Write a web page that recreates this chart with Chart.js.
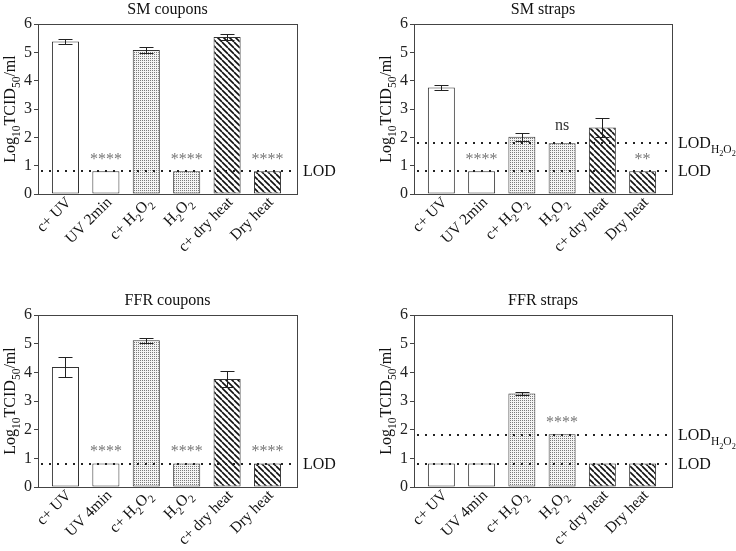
<!DOCTYPE html>
<html>
<head>
<meta charset="utf-8">
<script src="https://cdn.jsdelivr.net/npm/chart.js@4"></script>
<style>
  body { margin: 0; background: #fff; }
  #wrap { position: relative; width: 736px; height: 551px; }
  .panel { position: absolute; }
</style>
</head>
<body>
<div id="wrap">
  <canvas class="panel" id="smCoupons" width="360" height="280" style="left:0;top:0"></canvas>
  <canvas class="panel" id="smStraps" width="376" height="280" style="left:360px;top:0"></canvas>
  <canvas class="panel" id="ffrCoupons" width="360" height="271" style="left:0;top:280px"></canvas>
  <canvas class="panel" id="ffrStraps" width="376" height="271" style="left:360px;top:280px"></canvas>
</div>
<script>
// categories
const labels2min = ['c+ UV', 'UV 2min', 'c+ H₂O₂', 'H₂O₂', 'c+ dry heat', 'Dry heat'];
const labels4min = ['c+ UV', 'UV 4min', 'c+ H₂O₂', 'H₂O₂', 'c+ dry heat', 'Dry heat'];

// SM coupons
const smCouponsMean = [5.38, 0.8, 5.08, 0.8, 5.54, 0.8];
const smCouponsErr  = [0.09, 0, 0.10, 0, 0.09, 0];
const smCouponsSig  = ['', '****', '', '****', '', '****'];

// SM straps
const smStrapsMean = [3.76, 0.8, 2.02, 1.79, 2.35, 0.8];
const smStrapsErr  = [0.10, 0, 0.15, 0, 0.35, 0];
const smStrapsSig  = ['', '****', '', 'ns', '', '**'];

// FFR coupons
const ffrCouponsMean = [4.19, 0.82, 5.12, 0.82, 3.77, 0.82];
const ffrCouponsErr  = [0.35, 0, 0.09, 0, 0.28, 0];
const ffrCouponsSig  = ['', '****', '', '****', '', '****'];

// FFR straps
const ffrStrapsMean = [0.82, 0.82, 3.26, 1.84, 0.82, 0.82];
const ffrStrapsErr  = [0, 0, 0.05, 0, 0, 0];
const ffrStrapsSig  = ['', '', '', '****', '', ''];

// detection limits
const lodValue = 0.8;
const lodH2O2Value = 1.8;
const yTicks = [0, 1, 2, 3, 4, 5, 6];

const SERIF = "'Liberation Serif', 'Times New Roman', serif";

// fill patterns
function dotPattern(ctx) {
    const c = document.createElement('canvas');
    c.width = 2; c.height = 2;
    const g = c.getContext('2d');
    g.fillStyle = '#f4f4f4';
    g.fillRect(0, 0, 2, 2);
    g.fillStyle = '#7a7a7a';
    g.fillRect(0, 0, 1, 1);
    return ctx.createPattern(c, 'repeat');
}
function hatchPattern(ctx) {
    const s = 6;
    const c = document.createElement('canvas');
    c.width = s; c.height = s;
    const g = c.getContext('2d');
    g.fillStyle = '#fff';
    g.fillRect(0, 0, s, s);
    g.strokeStyle = '#111';
    g.lineWidth = 1.6;
    g.beginPath();
    for (const k of [-s, 0, s]) {
        g.moveTo(k, 0);
        g.lineTo(k + s, s);
    }
    g.stroke();
    return ctx.createPattern(c, 'repeat');
}

// text with subscripts: unicode ₀-₉ go one level down, _{...} is a subscript group
function parseRich(str) {
    const runs = [];
    let level = 0;
    for (let i = 0; i < str.length; i++) {
        if (str.startsWith('_{', i)) { level++; i++; continue; }
        const ch = str[i];
        if (ch === '}') { level--; continue; }
        const d = '₀₁₂₃₄₅₆₇₈₉'.indexOf(ch);
        const run = d >= 0 ? { t: String(d), l: level + 1 } : { t: ch, l: level };
        const last = runs[runs.length - 1];
        if (last && last.l === run.l) last.t += run.t; else runs.push(run);
    }
    return runs;
}
function richWidth(ctx, str, size) {
    let w = 0;
    for (const r of parseRich(str)) {
        ctx.font = (size * Math.pow(0.72, r.l)).toFixed(1) + 'px ' + SERIF;
        w += ctx.measureText(r.t).width;
    }
    return w;
}
function drawRich(ctx, str, x, y, size) {
    // x = left edge, y = alphabetic baseline
    let cx = x;
    for (const r of parseRich(str)) {
        let dy = 0, s = size;
        for (let k = 0; k < r.l; k++) { dy += s * 0.3; s *= 0.72; }
        ctx.font = s.toFixed(1) + 'px ' + SERIF;
        ctx.fillText(r.t, cx, y + dy);
        cx += ctx.measureText(r.t).width;
    }
}

function makePanel(id, title, cats, means, errs, sigs, lods, box) {
    const canvas = document.getElementById(id);
    const ctx = canvas.getContext('2d');
    const dots = dotPattern(ctx);
    const hatch = hatchPattern(ctx);
    const fills = cats.map((c, i) => i < 2 ? '#fff' : (i < 4 ? dots : hatch));

    const panelPlugin = {
        id: 'panelDecor',
        afterDatasetsDraw(chart) {
            const { ctx, chartArea: a, scales: { x, y } } = chart;
            ctx.save();
            // error bars
            ctx.strokeStyle = '#222';
            ctx.lineWidth = 1;
            means.forEach((m, i) => {
                if (!errs[i]) return;
                const px = Math.round(x.getPixelForValue(i)) + 0.5;
                const top = Math.round(y.getPixelForValue(m + errs[i])) + 0.5;
                const bot = Math.round(y.getPixelForValue(m - errs[i])) + 0.5;
                ctx.beginPath();
                ctx.moveTo(px, top); ctx.lineTo(px, bot);
                ctx.moveTo(px - 7, top); ctx.lineTo(px + 7, top);
                ctx.moveTo(px - 7, bot); ctx.lineTo(px + 7, bot);
                ctx.stroke();
            });
            // detection limit lines
            ctx.fillStyle = '#222';
            lods.forEach(l => {
                const py = Math.round(y.getPixelForValue(l.value));
                for (let px = a.left + 3; px < a.right; px += 8) {
                    ctx.fillRect(px, py - 1, 2, 2);
                }
            });
            // frame
            ctx.strokeStyle = '#444';
            ctx.lineWidth = 1;
            ctx.strokeRect(Math.round(a.left) + 0.5, Math.round(a.top) + 0.5,
                Math.round(a.right - a.left), Math.round(a.bottom - a.top));
            // significance marks
            ctx.textAlign = 'center';
            ctx.textBaseline = 'alphabetic';
            ctx.font = '16px ' + SERIF;
            sigs.forEach((s, i) => {
                if (!s) return;
                const ns = s === 'ns';
                ctx.fillStyle = ns ? '#333' : '#777';
                const mid = y.getPixelForValue(means[i] + errs[i]) - (ns ? 17 : 16);
                ctx.fillText(s, x.getPixelForValue(i), mid + (ns ? 4 : 9));
            });
            ctx.restore();
        },
        afterDraw(chart) {
            const { ctx, chartArea: a, scales: { x, y } } = chart;
            ctx.save();
            ctx.fillStyle = '#111';
            ctx.textBaseline = 'alphabetic';
            // title
            ctx.font = '16px ' + SERIF;
            ctx.textAlign = 'center';
            ctx.fillText(title, (a.left + a.right) / 2, a.top - 10);
            ctx.textAlign = 'left';
            // y title
            const yt = 'Log₁₀TCID₅₀/ml';
            const ytw = richWidth(ctx, yt, 16);
            ctx.save();
            ctx.translate(a.left - 23, (a.top + a.bottom) / 2);
            ctx.rotate(-Math.PI / 2);
            drawRich(ctx, yt, -ytw / 2, 0, 16);
            ctx.restore();
            // x labels, right end of the baseline sits just below each bar
            cats.forEach((c, i) => {
                const w = richWidth(ctx, c, 15.5);
                ctx.save();
                ctx.translate(x.getPixelForValue(i) + 3, a.bottom + 5.5);
                ctx.rotate(-Math.PI / 4);
                drawRich(ctx, c, -w, 5, 15.5);
                ctx.restore();
            });
            // detection limit labels
            lods.forEach(l => {
                drawRich(ctx, l.text, a.right + 6, y.getPixelForValue(l.value) + 5, 16);
            });
            ctx.restore();
        }
    };

    return new Chart(ctx, {
        type: 'bar',
        data: {
            datasets: [{
                data: means.map((m, i) => ({ x: i, y: m })),
                backgroundColor: fills,
                borderColor: '#333',
                borderWidth: 1,
                borderSkipped: false,
                barPercentage: 0.67,
                categoryPercentage: 1
            }]
        },
        options: {
            responsive: false,
            animation: false,
            layout: {
                padding: { top: box.top, right: canvas.width - box.right, bottom: 0, left: 0 }
            },
            plugins: {
                legend: { display: false },
                tooltip: { enabled: false }
            },
            scales: {
                x: {
                    type: 'linear',
                    offset: false,
                    min: -0.68,
                    max: 5.73,
                    grid: { display: false, offset: false },
                    border: { display: false },
                    ticks: { display: false },
                    afterFit(s) { s.height = canvas.height - box.bottom; }
                },
                y: {
                    min: 0,
                    max: 6,
                    afterBuildTicks(s) { s.ticks = yTicks.map(v => ({ value: v })); },
                    ticks: {
                        color: '#222',
                        padding: 2,
                        font: { family: SERIF, size: 16 }
                    },
                    grid: { drawOnChartArea: false, tickLength: 4, color: '#444' },
                    border: { display: false },
                    afterFit(s) { s.width = box.left; }
                }
            }
        },
        plugins: [panelPlugin]
    });
}

const lodOnly = [{ value: lodValue, text: 'LOD' }];
const lodBoth = [{ value: lodH2O2Value, text: 'LOD_{H₂O₂}' }, { value: lodValue, text: 'LOD' }];

makePanel('smCoupons', 'SM coupons', labels2min, smCouponsMean, smCouponsErr, smCouponsSig, lodOnly,
    { left: 38, right: 297, top: 24, bottom: 194 });
makePanel('smStraps', 'SM straps', labels2min, smStrapsMean, smStrapsErr, smStrapsSig, lodBoth,
    { left: 54, right: 312, top: 24, bottom: 194 });
makePanel('ffrCoupons', 'FFR coupons', labels4min, ffrCouponsMean, ffrCouponsErr, ffrCouponsSig, lodOnly,
    { left: 38, right: 297, top: 35, bottom: 207 });
makePanel('ffrStraps', 'FFR straps', labels4min, ffrStrapsMean, ffrStrapsErr, ffrStrapsSig, lodBoth,
    { left: 54, right: 312, top: 35, bottom: 207 });
</script>
</body>
</html>
